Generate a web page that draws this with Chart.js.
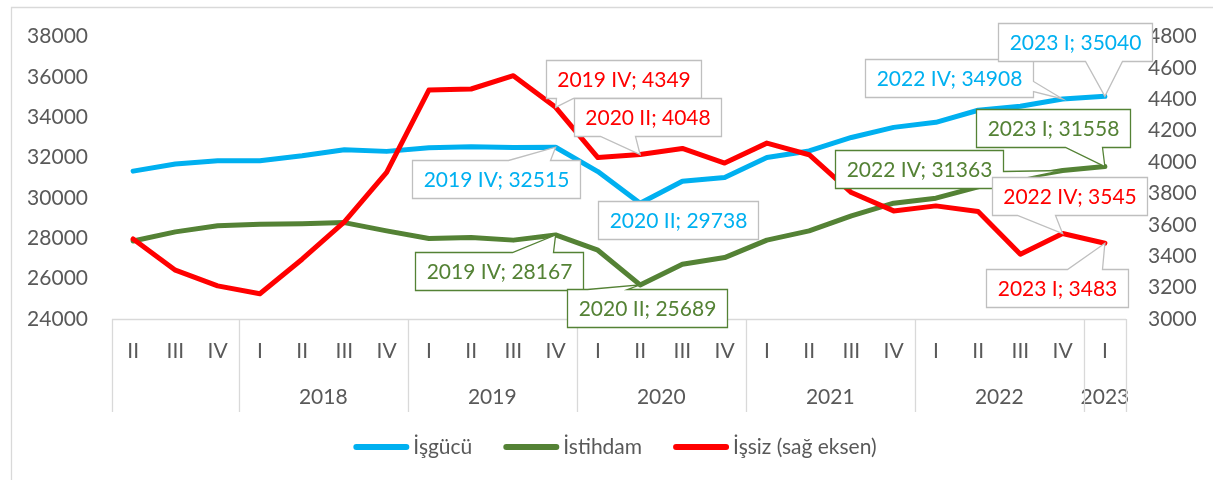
<!DOCTYPE html>
<html><head><meta charset="utf-8">
<script src="https://cdn.jsdelivr.net/npm/chart.js@4.4.1/dist/chart.umd.min.js"></script>
<style>html,body{margin:0;padding:0;background:#fff}#wrap{position:relative;width:1213px;height:480px}</style>
</head><body><div id="wrap"><canvas id="c" width="1213" height="480"></canvas></div>
<script>
const quarters = ['II','III','IV','I','II','III','IV','I','II','III','IV','I','II','III','IV','I','II','III','IV','I','II','III','IV','I'];
const years = ['2017','2017','2017','2018','2018','2018','2018','2019','2019','2019','2019','2020','2020','2020','2020','2021','2021','2021','2021','2022','2022','2022','2022','2023'];
const groupLabels = ['', '2018', '2019', '2020', '2021', '2022', '2023'];
const isgucu = [31330, 31680, 31840, 31850, 32090, 32390, 32310, 32490, 32540, 32500, 32515, 31310, 29738, 30830, 31010, 32010, 32330, 33000, 33500, 33750, 34350, 34550, 34908, 35040];
const istihdam = [27870, 28320, 28620, 28700, 28720, 28780, 28370, 27990, 28040, 27910, 28167, 27410, 25689, 26716, 27045, 27910, 28370, 29110, 29740, 29990, 30550, 31000, 31363, 31558];
const issiz = [3510, 3311, 3211, 3161, 3381, 3619, 3934, 4459, 4466, 4551, 4349, 4029, 4048, 4087, 3994, 4121, 4047, 3806, 3689, 3721, 3685, 3413, 3545, 3483];
const seriesNames = ['İşgücü', 'İstihdam', 'İşsiz (sağ eksen)'];
const seriesColors = ['#00B0F0', '#548235', '#FF0000'];
const leftTicks = [24000, 38000, 2000];
const rightTicks = [3000, 4800, 200];

// callout layout: dataset, index, box offset from point, wedge edge and base
const callouts = [
  {s:0,i:10,dx:-144,dy:13,edge:'top',b:[96,138]},
  {s:0,i:12,dx:-42,dy:-2,edge:null},
  {s:0,i:22,dx:-198,dy:-40,edge:'right',b:[22,32]},
  {s:0,i:23,dx:-107,dy:-73,edge:'bottom',b:[87,124]},
  {s:1,i:10,dx:-141,dy:17,edge:'top',b:[97,138]},
  {s:1,i:12,dx:-73,dy:4,edge:'top',b:[20,60]},
  {s:1,i:22,dx:-228,dy:-20,edge:'right',b:[21,32]},
  {s:1,i:23,dx:-129,dy:-58,edge:'bottom',b:[89,126]},
  {s:2,i:10,dx:-10,dy:-47,edge:'bottom',b:[10,27]},
  {s:2,i:12,dx:-66,dy:-57,edge:'bottom',b:[26,61]},
  {s:2,i:22,dx:-71,dy:-56,edge:'bottom',b:[25,63]},
  {s:2,i:23,dx:-119,dy:26,edge:'top',b:[81,116]}
];

const FONT = 'Lato, "Noto Sans", sans-serif';
const FS = 21;
const GREY = '#595959';
const LINEGREY = '#D9D9D9';

const decor = {
  id: 'decor',
  beforeDatasetsDraw(chart) {
    const ctx = chart.ctx, ca = chart.chartArea, x = chart.scales.x;
    ctx.save();
    ctx.strokeStyle = LINEGREY; ctx.lineWidth = 1.3;
    ctx.beginPath();
    ctx.moveTo(11.5, 480); ctx.lineTo(11.5, 7.5); ctx.lineTo(1213, 7.5);
    ctx.stroke();
    ctx.beginPath();
    ctx.moveTo(ca.left, ca.bottom + 0.5); ctx.lineTo(ca.right, ca.bottom + 0.5);
    ctx.stroke();
    const step = (ca.right - ca.left) / quarters.length;
    let start = 0, g = 0;
    const bounds = [ca.left];
    ctx.fillStyle = GREY;
    ctx.font = FS + 'px ' + FONT;
    ctx.textAlign = 'center'; ctx.textBaseline = 'middle';
    for (let k = 1; k <= years.length; k++) {
      if (k === years.length || years[k] !== years[start]) {
        const x0 = x.getPixelForValue(start) - step / 2;
        const x1 = x.getPixelForValue(k - 1) + step / 2;
        ctx.fillText(groupLabels[g], (x0 + x1) / 2, ca.bottom + 78);
        bounds.push(x1);
        start = k; g++;
      }
    }
    ctx.beginPath();
    bounds.forEach(b => { const bx = Math.round(b) + 0.5; ctx.moveTo(bx, ca.bottom); ctx.lineTo(bx, ca.bottom + 93); });
    ctx.stroke();
    ctx.restore();
  },
  afterDatasetsDraw(chart) {
    const ctx = chart.ctx;
    ctx.save();
    ctx.font = FS + 'px ' + FONT;
    ctx.textAlign = 'center'; ctx.textBaseline = 'middle';
    callouts.forEach(c => {
      const meta = chart.getDatasetMeta(c.s);
      const pt = meta.data[c.i];
      const px = pt.x, py = pt.y;
      const val = chart.data.datasets[c.s].data[c.i];
      const text = years[c.i] + ' ' + quarters[c.i] + '; ' + val;
      const w = Math.round(ctx.measureText(text).width + 22), h = 38;
      const L = Math.round(px + c.dx) + 0.5, T = Math.round(py + c.dy) + 0.5, R = L + w, B = T + h;
      ctx.beginPath();
      if (c.edge === 'top') {
        ctx.moveTo(L, T); ctx.lineTo(L + c.b[0], T); ctx.lineTo(px, py); ctx.lineTo(L + c.b[1], T);
        ctx.lineTo(R, T); ctx.lineTo(R, B); ctx.lineTo(L, B);
      } else if (c.edge === 'bottom') {
        ctx.moveTo(L, T); ctx.lineTo(R, T); ctx.lineTo(R, B); ctx.lineTo(L + c.b[1], B);
        ctx.lineTo(px, py); ctx.lineTo(L + c.b[0], B); ctx.lineTo(L, B);
      } else if (c.edge === 'right') {
        ctx.moveTo(L, T); ctx.lineTo(R, T); ctx.lineTo(R, T + c.b[0]); ctx.lineTo(px, py);
        ctx.lineTo(R, T + c.b[1]); ctx.lineTo(R, B); ctx.lineTo(L, B);
      } else {
        ctx.moveTo(L, T); ctx.lineTo(R, T); ctx.lineTo(R, B); ctx.lineTo(L, B);
      }
      ctx.closePath();
      ctx.fillStyle = '#fff'; ctx.fill();
      ctx.strokeStyle = c.s === 1 ? seriesColors[1] : '#BFBFBF';
      ctx.lineWidth = 1.3; ctx.stroke();
      ctx.fillStyle = seriesColors[c.s];
      ctx.fillText(text, (L + R) / 2, (T + B) / 2 + 1);
    });
    ctx.restore();
  },
  afterDraw(chart) {
    const ctx = chart.ctx;
    ctx.save();
    ctx.font = FS + 'px ' + FONT;
    ctx.textBaseline = 'middle'; ctx.textAlign = 'left';
    const lineLen = 56, gap = 4, itemGap = 31, y = 447;
    const widths = seriesNames.map(n => ctx.measureText(n).width);
    const total = widths.reduce((a, b) => a + b, 0) + seriesNames.length * (lineLen + gap) + itemGap * (seriesNames.length - 1);
    let x = 615 - total / 2;
    seriesNames.forEach((n, k) => {
      ctx.strokeStyle = seriesColors[k]; ctx.lineWidth = 6; ctx.lineCap = 'round';
      ctx.beginPath(); ctx.moveTo(x + 3, y); ctx.lineTo(x + lineLen - 3, y); ctx.stroke();
      x += lineLen + gap;
      ctx.fillStyle = GREY; ctx.fillText(n, x, y);
      x += widths[k] + itemGap;
    });
    ctx.restore();
  }
};

const ds = (k, data, axis, order) => ({
  label: seriesNames[k], data, yAxisID: axis, borderColor: seriesColors[k], backgroundColor: seriesColors[k],
  borderWidth: 5, pointRadius: 0, tension: 0, borderJoinStyle: 'round', borderCapStyle: 'round', order
});

const plainTick = v => String(v);

new Chart(document.getElementById('c'), {
  type: 'line',
  data: {
    labels: quarters,
    datasets: [ds(0, isgucu, 'y', 2), ds(1, istihdam, 'y', 1), ds(2, issiz, 'y1', 0)]
  },
  options: {
    responsive: false, animation: false, devicePixelRatio: 1,
    layout: { padding: { top: 36, bottom: 0, left: 0, right: 0 } },
    plugins: { legend: { display: false }, tooltip: { enabled: false } },
    scales: {
      x: {
        type: 'category', offset: true,
        grid: { display: false, drawTicks: false }, border: { display: false },
        ticks: { autoSkip: false, maxRotation: 0, color: GREY, font: { family: FONT, size: FS }, padding: 20 },
        afterFit(s) { s.height = 161; }
      },
      y: {
        position: 'left', min: leftTicks[0], max: leftTicks[1],
        grid: { display: false, drawTicks: false }, border: { display: false },
        ticks: { stepSize: leftTicks[2], color: GREY, font: { family: FONT, size: FS }, padding: 24, callback: plainTick },
        afterFit(s) { s.width = 112; }
      },
      y1: {
        position: 'right', min: rightTicks[0], max: rightTicks[1],
        grid: { display: false, drawTicks: false }, border: { display: false },
        ticks: { stepSize: rightTicks[2], color: GREY, font: { family: FONT, size: FS }, padding: 22, callback: plainTick },
        afterFit(s) { s.width = 87; }
      }
    }
  },
  plugins: [decor]
});
</script></body></html>
